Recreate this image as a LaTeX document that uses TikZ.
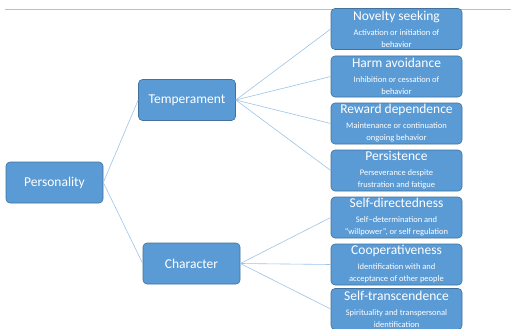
\documentclass[tikz,border=0pt]{standalone}
\usepackage{fontspec}
\setmainfont{Carlito}
\definecolor{boxfill}{HTML}{5B9BD5}
\definecolor{boxline}{HTML}{41719C}
\definecolor{connc}{HTML}{9DC3E6}
\definecolor{topline}{HTML}{BFBFBF}
\tikzset{
  mainbox/.style={draw=boxline, line width=0.6pt, fill=boxfill, rounded corners=4pt,
    minimum width=97pt, minimum height=41pt, inner sep=0pt, text=white,
    font=\fontsize{13.5}{15}\selectfont},
  leafbox/.style={draw=boxline, line width=0.6pt, fill=boxfill, rounded corners=4pt,
    minimum width=131pt, minimum height=41pt, inner sep=0pt, text=white, align=center},
  connline/.style={draw=connc, line width=0.6pt},
}
\newcommand{\leaftext}[3]{\fontsize{13.5}{14}\selectfont #1\\[3pt]\fontsize{8.5}{9}\selectfont #2\\\fontsize{8.5}{9}\selectfont #3}
\begin{document}
\begin{tikzpicture}[x=1pt,y=-1pt]
\useasboundingbox (0,0) rectangle (511,329);
\clip (0,0) rectangle (511,329);
\coordinate (tl) at (5,9);
\coordinate (tr) at (511,9);
\draw[topline, line width=0.8pt] (tl) -- (tr);

\node[mainbox] (pers) at (54.5,182.5) {Personality};
\node[mainbox] (temp) at (187,100) {Temperament};
\node[mainbox] (char) at (191.5,263.5) {Character};

\node[leafbox] (nov) at (396.5,29) {\leaftext{Novelty seeking}{Activation or initiation of}{behavior}};
\node[leafbox] (harm) at (396.5,76.5) {\leaftext{Harm avoidance}{Inhibition or cessation of}{behavior}};
\node[leafbox] (rew) at (396.5,123.5) {\leaftext{Reward dependence}{Maintenance or continuation}{ongoing behavior}};
\node[leafbox] (per) at (396.5,170.5) {\leaftext{Persistence}{Perseverance despite}{frustration and fatigue}};
\node[leafbox] (selfd) at (396.5,217.5) {\leaftext{Self-directedness}{Self--determination and}{``willpower'', or self regulation}};
\node[leafbox] (coop) at (396.5,264.5) {\leaftext{Cooperativeness}{Identification with and}{acceptance of other people}};
\node[leafbox] (selft) at (396.5,309) {\leaftext{Self-transcendence}{Spirituality and transpersonal}{identification}};

\draw[connline] (pers.east) -- (temp.west);
\draw[connline] (pers.east) -- (char.west);
\foreach \n in {nov,harm,rew,per}{\draw[connline] (temp.east) -- (\n.west);}
\foreach \n in {selfd,coop,selft}{\draw[connline] (char.east) -- (\n.west);}
\end{tikzpicture}
\end{document}
